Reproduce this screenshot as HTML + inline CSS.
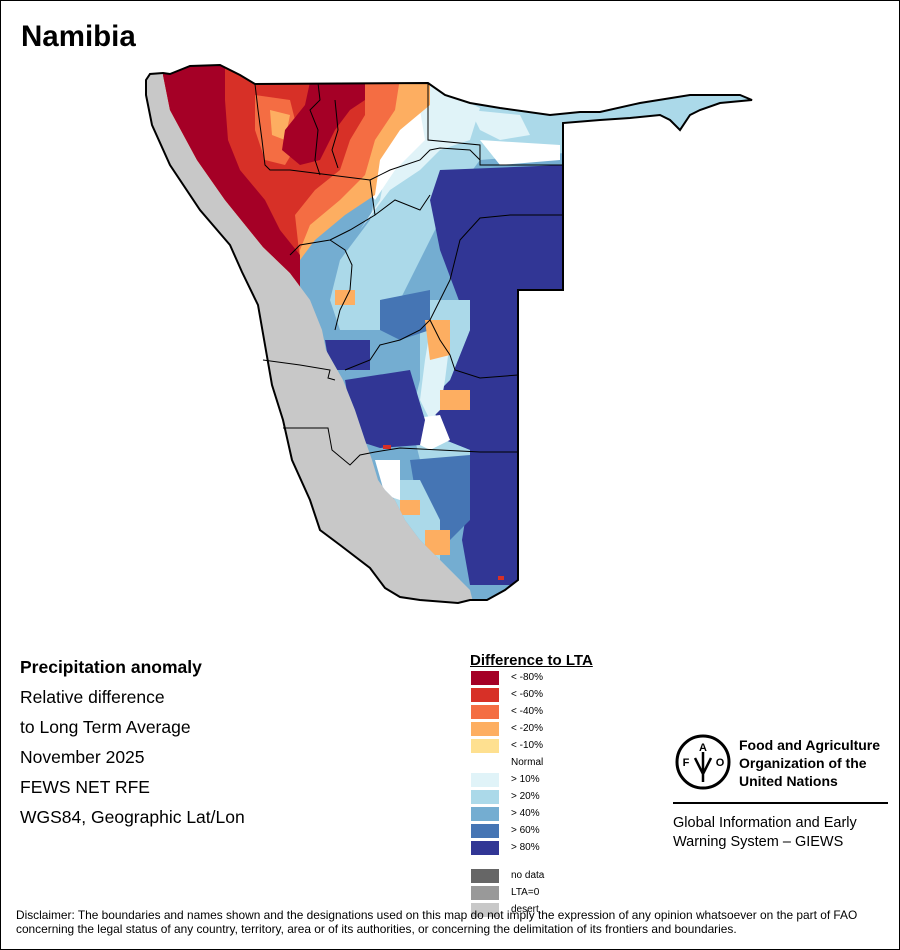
<!DOCTYPE html>
<html><head><meta charset="utf-8"><style>
body{margin:0;background:#fff}
#w{position:relative;width:898px;height:948px;border:1px solid #000;overflow:hidden;font-family:"Liberation Sans",sans-serif;color:#000}
.t{position:absolute;white-space:nowrap}
.sw{position:absolute;left:470px;width:28px;height:14px}
.lb{position:absolute;left:510px;font-size:10px}
.m{font-size:17.5px}
</style></head><body><div id="w">
<svg width="900" height="950" style="position:absolute;left:-1px;top:-1px">
<defs>
<clipPath id="nam"><polygon id="o" points="146,80 150,74 163,73 170,74 190,66 220,65 240,75 255,84 428,83 445,95 470,103 500,108 550,115 580,112 600,112 640,103 690,95 740,95 752,100 720,103 700,110 690,115 680,130 670,120 660,115 630,118 600,120 563,123 563,290 518,290 518,580 505,590 487,600 470,600 458,603 420,600 400,597 385,588 370,568 340,545 320,530 310,500 292,460 283,420 272,385 265,345 258,305 242,272 230,245 200,210 170,165 152,125 146,95"/></clipPath>
<clipPath id="col"><polygon points="163,60 760,60 760,610 475,610 470,590 460,580 440,560 420,540 405,520 395,500 385,490 378,480 372,460 365,440 355,410 343,380 326,350 322,330 310,300 290,273 263,247 225,200 197,160 170,110 163,75"/></clipPath>
</defs>
<g clip-path="url(#nam)">
<rect x="100" y="50" width="700" height="600" fill="#c8c8c8"/>
<g clip-path="url(#col)">
<rect x="100" y="50" width="700" height="600" fill="#74add1"/>
<polygon fill="#abd9e9" points="430,85 760,85 760,130 600,150 480,160 450,200 420,260 400,300 380,330 340,330 330,300 340,260 370,220 380,170 400,130"/>
<polygon fill="#e0f3f8" points="430,85 480,108 470,140 440,150 420,170 390,190 375,210 360,230 380,200 390,150 410,120"/>
<polygon fill="#e0f3f8" points="470,110 520,115 530,135 500,140 480,130"/>
<polygon fill="#ffffff" points="370,120 420,110 425,140 395,170 375,200 360,180"/>
<polygon fill="#ffffff" points="480,140 560,145 560,160 500,165"/>
<polygon fill="#313695" points="440,170 563,165 563,290 518,290 518,585 470,585 462,540 470,490 470,450 445,440 430,400 450,380 470,330 455,290 440,250 430,200"/>
<polygon fill="#abd9e9" points="430,300 470,300 470,330 450,380 430,400 445,440 470,450 470,470 440,480 420,460 410,420 420,380 420,330"/>
<polygon fill="#e0f3f8" points="430,330 450,340 445,380 440,410 430,420 420,400 425,360"/>
<polygon fill="#ffffff" points="400,420 440,415 450,440 430,450 410,440"/>
<polygon fill="#313695" points="345,380 410,370 425,420 420,445 380,448 355,440"/>
<polygon fill="#313695" points="325,340 370,340 370,370 330,370"/>
<polygon fill="#4575b4" points="380,300 430,290 430,330 400,340 380,330"/>
<polygon fill="#4575b4" points="410,460 470,455 470,520 450,540 420,520"/>
<polygon fill="#abd9e9" points="390,480 420,480 440,520 440,560 460,580 420,580 400,530"/>
<polygon fill="#ffffff" points="375,460 400,460 400,500 385,495"/>
<polygon fill="#fdae61" points="425,530 450,530 450,555 425,555"/>
<polygon fill="#fdae61" points="400,500 420,500 420,515 400,515"/>
<polygon fill="#fdae61" points="425,320 450,320 450,355 430,360"/>
<polygon fill="#fdae61" points="440,390 470,390 470,410 440,410"/>
<polygon fill="#fdae61" points="335,290 355,290 355,305 335,305"/>
<polygon fill="#fdae61" points="150,60 430,75 430,105 400,130 380,160 375,195 345,215 315,240 300,260 300,290 150,290"/>
<polygon fill="#f46d43" points="150,60 400,78 395,110 375,140 365,175 340,200 310,225 300,250 300,290 150,290"/>
<polygon fill="#d73027" points="150,60 365,80 365,115 350,140 340,170 315,190 295,215 300,260 290,290 150,290"/>
<polygon fill="#f46d43" points="255,95 290,100 300,140 285,165 265,160 255,130"/>
<polygon fill="#fdae61" points="270,110 290,115 285,140 272,135"/>
<polygon fill="#a50026" points="150,60 225,65 225,100 228,140 240,170 265,200 280,230 300,255 300,290 150,290"/>
<polygon fill="#a50026" points="310,82 365,82 365,100 350,110 335,130 320,160 300,165 282,150 285,130 305,105"/>
<rect x="383" y="445" width="8" height="4" fill="#d73027"/>
<rect x="498" y="576" width="6" height="4" fill="#d73027"/>
</g>
</g>
<g fill="none" stroke="#000" stroke-width="1">
<polyline points="255,84 258,110 262,140 265,165 270,170 290,170 330,175 370,180"/>
<polyline points="318,83 320,100 310,110 318,130 315,160 320,175"/>
<polyline points="335,100 338,130 332,150 338,168"/>
<polyline points="428,83 428,140 480,145 480,165 563,165"/>
<polyline points="370,180 375,215 350,230 330,240 300,245 290,255"/>
<polyline points="370,180 390,170 420,160 430,150 440,148 470,150 480,160"/>
<polyline points="375,215 395,200 420,210 430,195"/>
<polyline points="563,215 510,215 480,218 460,240 450,280 440,300 430,320 420,330 400,340 380,345 370,360 345,370"/>
<polyline points="330,240 345,250 352,265 350,290 340,310 335,330"/>
<polyline points="518,375 480,378 455,370 450,355 440,340 430,320"/>
<polyline points="263,360 300,365 330,370 328,378 335,380"/>
<polyline points="283,428 328,428 332,450 350,465 360,455 375,452 400,448 440,450 480,452 518,452"/>
</g>
<use href="#o" fill="none" stroke="#000" stroke-width="2"/>
</svg>
<div class="t" style="left:20px;top:19px;font-size:29.5px;font-weight:bold">Namibia</div>
<div class="t m" style="left:19px;top:656px;font-weight:bold">Precipitation anomaly</div>
<div class="t m" style="left:19px;top:686px">Relative difference</div>
<div class="t m" style="left:19px;top:716px">to Long Term Average</div>
<div class="t m" style="left:19px;top:746px">November 2025</div>
<div class="t m" style="left:19px;top:776px">FEWS NET RFE</div>
<div class="t m" style="left:19px;top:806px">WGS84, Geographic Lat/Lon</div>
<div class="t" style="left:469px;top:651px;font-size:15px;font-weight:bold;text-decoration:underline">Difference to LTA</div>
<div class="sw" style="top:670px;background:#a50026"></div><div class="lb" style="top:671px">&lt; -80%</div>
<div class="sw" style="top:687px;background:#d73027"></div><div class="lb" style="top:688px">&lt; -60%</div>
<div class="sw" style="top:704px;background:#f46d43"></div><div class="lb" style="top:705px">&lt; -40%</div>
<div class="sw" style="top:721px;background:#fdae61"></div><div class="lb" style="top:722px">&lt; -20%</div>
<div class="sw" style="top:738px;background:#fee090"></div><div class="lb" style="top:739px">&lt; -10%</div>
<div class="lb" style="top:756px">Normal</div>
<div class="sw" style="top:772px;background:#e0f3f8"></div><div class="lb" style="top:773px">&gt; 10%</div>
<div class="sw" style="top:789px;background:#abd9e9"></div><div class="lb" style="top:790px">&gt; 20%</div>
<div class="sw" style="top:806px;background:#74add1"></div><div class="lb" style="top:807px">&gt; 40%</div>
<div class="sw" style="top:823px;background:#4575b4"></div><div class="lb" style="top:824px">&gt; 60%</div>
<div class="sw" style="top:840px;background:#313695"></div><div class="lb" style="top:841px">&gt; 80%</div>
<div class="sw" style="top:868px;background:#666"></div><div class="lb" style="top:869px">no data</div>
<div class="sw" style="top:885px;background:#999"></div><div class="lb" style="top:886px">LTA=0</div>
<div class="sw" style="top:902px;background:#c8c8c8"></div><div class="lb" style="top:903px">desert</div>
<svg width="60" height="60" style="position:absolute;left:672px;top:731px" viewBox="0 0 60 60">
<circle cx="30" cy="30" r="26" fill="none" stroke="#000" stroke-width="3"/>
<text x="30" y="19" font-size="11" font-weight="bold" text-anchor="middle" font-family="Liberation Sans">A</text>
<text x="13" y="34" font-size="11" font-weight="bold" text-anchor="middle" font-family="Liberation Sans">F</text>
<text x="47" y="34" font-size="11" font-weight="bold" text-anchor="middle" font-family="Liberation Sans">O</text>
<path d="M30 20 L30 50 M22 26 L30 42 L38 26" stroke="#000" stroke-width="2.5" fill="none"/>
</svg>
<div class="t" style="left:738px;top:735px;font-size:14px;font-weight:bold;line-height:18px">Food and Agriculture<br>Organization of the<br>United Nations</div>
<div style="position:absolute;left:672px;top:801px;width:215px;height:2px;background:#000"></div>
<div class="t" style="left:672px;top:813px;font-size:14.5px;line-height:19px">Global Information and Early<br>Warning System – GIEWS</div>
<div class="t" style="left:15px;top:907px;font-size:11.9px;line-height:14px">Disclaimer: The boundaries and names shown and the designations used on this map do not imply the expression of any opinion whatsoever on the part of FAO<br>concerning the legal status of any country, territory, area or of its authorities, or concerning the delimitation of its frontiers and boundaries.</div>
</div></body></html>
